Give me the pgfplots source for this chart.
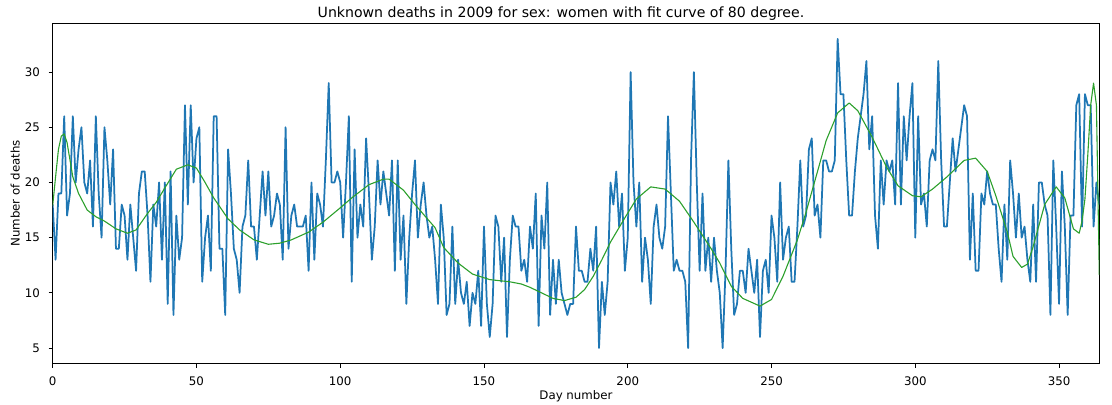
\documentclass[border=0pt]{standalone}
\usepackage{fontspec}
\setmainfont{DejaVu Sans}
\usepackage{pgfplots}
\pgfplotsset{compat=1.18}
\definecolor{mplblue}{HTML}{1F77B4}
\definecolor{mplgreen}{HTML}{2CA02C}
\begin{document}
\begin{tikzpicture}
\begin{axis}[
  at={(0,0)}, anchor=south west,
  scale only axis, width=1046.6bp, height=340bp,
  xmin=0, xmax=364, ymin=3.6, ymax=34.4,
  xtick={0,50,...,350}, ytick={5,10,...,30},
  tick align=outside, major tick length=4bp,
  tick style={black, line width=0.9bp},
  axis line style={black, line width=0.9bp},
  xtick pos=lower, ytick pos=left,
  /pgf/number format/assume math mode=true,
  ticklabel style={font=\fontsize{11.8bp}{14bp}\selectfont, inner sep=0pt},
  xticklabel style={anchor=north, yshift=-9.5bp},
  yticklabel style={anchor=east, xshift=-8.7bp},
  title={Unknown deaths in 2009 for sex: women with fit curve of 80 degree.},
  title style={at={(0.5,1)}, anchor=base, yshift=0.5bp, xshift=-15bp, inner sep=0pt, font=\fontsize{14.1bp}{17bp}\selectfont},
  xlabel={Day number},
  xlabel style={at={(axis description cs:0.5,-0.1059)}, anchor=base, inner sep=0pt, font=\fontsize{11.8bp}{14bp}\selectfont},
  ylabel={Number of deaths},
  ylabel style={at={(axis description cs:-0.0315,0.5)}, anchor=base, rotate=0, inner sep=0pt, font=\fontsize{11.8bp}{14bp}\selectfont},
]
\addplot[mplblue, line width=1.75bp, line join=round] coordinates {
(0,18)(1,13)(2,19)(3,19)(4,26)(5,17)(6,19)(7,26)(8,20)(9,23)
(10,25)(11,20)(12,19)(13,22)(14,16)(15,26)(16,19)(17,15)(18,25)(19,22)
(20,18)(21,23)(22,14)(23,14)(24,18)(25,17)(26,13)(27,18)(28,15)(29,12)
(30,19)(31,21)(32,21)(33,17)(34,11)(35,18)(36,16)(37,20)(38,13)(39,20)
(40,9)(41,21)(42,8)(43,17)(44,13)(45,15)(46,27)(47,18)(48,27)(49,20)
(50,24)(51,25)(52,11)(53,15)(54,17)(55,12)(56,26)(57,26)(58,14)(59,14)
(60,8)(61,23)(62,19)(63,14)(64,13)(65,10)(66,16)(67,17)(68,22)(69,16)
(70,16)(71,13)(72,17)(73,21)(74,17)(75,21)(76,16)(77,17)(78,19)(79,18)
(80,13)(81,25)(82,14)(83,17)(84,18)(85,16)(86,16)(87,16)(88,17)(89,12)
(90,20)(91,13)(92,19)(93,18)(94,16)(95,22)(96,29)(97,20)(98,20)(99,21)
(100,20)(101,15)(102,20)(103,26)(104,11)(105,23)(106,15)(107,18)(108,16)(109,24)
(110,19)(111,13)(112,16)(113,22)(114,18)(115,21)(116,19)(117,17)(118,22)(119,12)
(120,22)(121,13)(122,17)(123,9)(124,15)(125,19)(126,22)(127,15)(128,18)(129,20)
(130,17)(131,15)(132,16)(133,13)(134,9)(135,18)(136,15)(137,8)(138,9)(139,16)
(140,9)(141,13)(142,10)(143,9)(144,11)(145,7)(146,10)(147,9)(148,12)(149,7)
(150,16)(151,9)(152,6)(153,9)(154,17)(155,16)(156,11)(157,15)(158,6)(159,13)
(160,17)(161,16)(162,16)(163,12)(164,13)(165,11)(166,16)(167,14)(168,19)(169,7)
(170,17)(171,14)(172,20)(173,8)(174,13)(175,9)(176,13)(177,10)(178,9)(179,8)
(180,9)(181,9)(182,16)(183,12)(184,12)(185,11)(186,11)(187,14)(188,12)(189,16)
(190,5)(191,11)(192,8)(193,11)(194,20)(195,18)(196,21)(197,16)(198,19)(199,12)
(200,15)(201,30)(202,20)(203,16)(204,20)(205,11)(206,15)(207,13)(208,9)(209,16)
(210,18)(211,15)(212,14)(213,16)(214,26)(215,19)(216,12)(217,13)(218,12)(219,12)
(220,11)(221,5)(222,22)(223,30)(224,20)(225,12)(226,19)(227,12)(228,15)(229,11)
(230,15)(231,12)(232,10)(233,5)(234,12)(235,22)(236,14)(237,8)(238,9)(239,12)
(240,12)(241,10)(242,14)(243,12)(244,10)(245,13)(246,6)(247,12)(248,13)(249,10)
(250,17)(251,15)(252,11)(253,20)(254,13)(255,15)(256,16)(257,11)(258,11)(259,16)
(260,22)(261,16)(262,17)(263,23)(264,24)(265,17)(266,18)(267,15)(268,22)(269,22)
(270,21)(271,21)(272,22)(273,33)(274,28)(275,28)(276,22)(277,17)(278,17)(279,21)
(280,24)(281,26)(282,28)(283,31)(284,23)(285,26)(286,17)(287,14)(288,22)(289,18)
(290,22)(291,21)(292,22)(293,18)(294,29)(295,18)(296,26)(297,22)(298,26)(299,29)
(300,15)(301,26)(302,18)(303,19)(304,16)(305,22)(306,23)(307,22)(308,31)(309,22)
(310,16)(311,16)(312,20)(313,24)(314,21)(315,23)(316,25)(317,27)(318,26)(319,13)
(320,19)(321,12)(322,12)(323,19)(324,18)(325,21)(326,19)(327,18)(328,18)(329,14)
(330,11)(331,18)(332,13)(333,22)(334,19)(335,15)(336,19)(337,15)(338,16)(339,13)
(340,11)(341,18)(342,11)(343,20)(344,20)(345,18)(346,17)(347,8)(348,22)(349,16)
(350,9)(351,21)(352,16)(353,8)(354,17)(355,17)(356,27)(357,28)(358,16)(359,28)
(360,27)(361,27)(362,16)(363,20)(364,18)
};
\addplot[mplgreen, line width=1.1bp, line join=round] coordinates {
(0,17.9)(1,20.5)(2,23.0)(3,24.2)(4,24.4)(5,23.6)(7,20.5)(9,19.0)(12,17.5)(15,16.9)
(18,16.5)(22,15.8)(26,15.4)(29,15.7)(33,17.2)(36,18.2)(39,19.5)(43,21.2)(47,21.6)(50,21.3)
(53,20.0)(56,18.6)(61,16.7)(65,15.7)(70,14.8)(75,14.4)(79,14.5)(83,14.8)(89,15.5)(94,16.4)
(100,17.7)(104,18.6)(110,19.8)(115,20.3)(117,20.3)(122,19.3)(126,18.0)(130,16.8)(133,15.9)(136,14.1)
(141,12.7)(146,11.7)(152,11.2)(159,11.0)(163,10.8)(166,10.5)(170,10.0)(174,9.5)(178,9.3)(182,9.6)
(185,10.3)(188,11.5)(191,13.0)(194,14.6)(199,16.8)(203,18.5)(208,19.6)(213,19.4)(218,18.3)(223,16.4)
(229,14.0)(232,12.7)(236,10.6)(240,9.5)(246,8.8)(250,9.4)(254,11.5)(259,14.8)(262,17.3)(266,21.0)
(269,23.8)(273,26.3)(277,27.2)(280,26.5)(285,24.1)(290,21.4)(294,19.7)(299,18.8)(302,18.7)(306,19.4)
(311,20.5)(317,22.0)(321,22.2)(325,21.0)(328,18.8)(332,15.5)(334,13.3)(337,12.3)(339,12.6)(341,14.2)
(345,18.0)(349,19.6)(352,18.6)(355,15.8)(357,15.4)(358,16.5)(359,18.5)(360,22.5)(361,27.0)(362,29.0)
(363,27.0)(364,11.6)
};
\end{axis}
\pgfresetboundingbox
\path[use as bounding box] (-52.7bp,-41.5bp) rectangle (1059.3bp,363.5bp);
\end{tikzpicture}
\end{document}
